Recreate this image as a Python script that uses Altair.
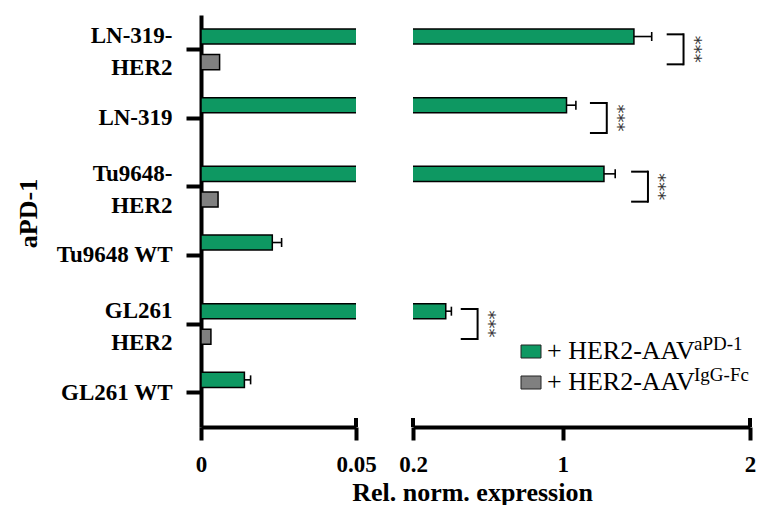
import altair as alt
import pandas as pd

# ---------------- data ----------------
cells = ["LN-319-\nHER2", "LN-319", "Tu9648-\nHER2", "Tu9648 WT", "GL261\nHER2", "GL261 WT"]
groups = ["aPD-1", "IgG-Fc"]
apd1_mean = [1.38, 1.02, 1.22, 0.023, 0.375, 0.014]
apd1_sem = [0.095, 0.05, 0.06, 0.003, 0.03, 0.002]
igg_mean = [0.006, None, 0.0055, None, 0.0032, None]
igg_sem = [0.0, None, 0.0, None, 0.0, None]

sig_cells = ["LN-319-\nHER2", "LN-319", "Tu9648-\nHER2", "GL261\nHER2"]
sig_text = ["***", "***", "***", "***"]
bracket_start = [1.555, 1.145, 1.365, 0.455]
bracket_end = [1.645, 1.235, 1.455, 0.545]

legend_main = ["+ HER2-AAV", "+ HER2-AAV"]
legend_sup = ["aPD-1", "IgG-Fc"]

left_ticks = [0, 0.05]
right_ticks = [0.2, 1, 2]
left_domain = [0, 0.05]
right_domain = [0.2, 2]
left_caps = [0.05]
right_caps = [0.2, 2]

GREEN = "#0e9862"
GRAY = "#808080"
FONT = "Liberation Serif"

rows = []
for c, m, s in zip(cells, apd1_mean, apd1_sem):
    rows.append({"cell": c, "group": "aPD-1", "mean": m, "upper": m + s, "sem": s, "base": 0.0})
for c, m, s in zip(cells, igg_mean, igg_sem):
    if m is not None:
        rows.append({"cell": c, "group": "IgG-Fc", "mean": m, "upper": m + s, "sem": s, "base": 0.0})
df = pd.DataFrame(rows)
df_err = df[df["sem"] > 0]

sig = pd.DataFrame({"cell": sig_cells, "start": bracket_start, "end": bracket_end, "txt": sig_text})

H = 412
WL = 155
WR = 337


def yenc(show):
    if show:
        ax = alt.Axis(
            title="aPD-1", titleFont=FONT, titleFontSize=26, titleFontWeight="bold",
            titleColor="black", titlePadding=14, titleY=198,
            labelFont=FONT, labelFontSize=23, labelFontWeight="bold", labelColor="black",
            labelLineHeight=32, labelExpr="split(datum.label, '\\n')", labelPadding=14,
            labelOffset={"condition": {"test": "length(split(datum.value, '\\n')) > 1", "value": -13},
                         "value": 0},
            tickSize=15, tickWidth=4, tickColor="black",
            domainWidth=4, domainColor="black", labelLimit=300,
        )
    else:
        ax = None
    return alt.Y("cell:N", sort=cells,
                 scale=alt.Scale(domain=cells, paddingInner=0, paddingOuter=0),
                 axis=ax)


yoff = alt.YOffset("group:N", sort=groups,
                   scale=alt.Scale(domain=groups, paddingInner=0.412, paddingOuter=0.546))


def xaxis(ticks, title=None, titleX=None):
    kw = dict(values=ticks, format="~g", grid=False,
              labelFont=FONT, labelFontSize=23, labelFontWeight="bold", labelColor="black",
              labelPadding=13, labelFlush=False,
              tickSize=13, tickWidth=4, tickColor="black",
              domainWidth=4, domainColor="black")
    if title:
        kw.update(title=title, titleFont=FONT, titleFontSize=26, titleFontWeight="bold",
                  titleColor="black", titleX=titleX, titlePadding=3)
    else:
        kw.update(title=None)
    return alt.Axis(**kw)


def panel(domain, ticks, caps, show_y, title=None, titleX=None):
    xs = alt.Scale(domain=domain, nice=False, zero=False)
    y = yenc(show_y)
    bars = alt.Chart(df).mark_bar(stroke="black", strokeWidth=1.5, clip=True).encode(
        x=alt.X("mean:Q", scale=xs, axis=xaxis(ticks, title, titleX)),
        x2="base:Q",
        y=y,
        yOffset=yoff,
        color=alt.Color("group:N", scale=alt.Scale(domain=groups, range=[GREEN, GRAY]), legend=None),
    )
    err = alt.Chart(df_err).mark_rule(color="black", strokeWidth=1.6, clip=True).encode(
        x="mean:Q", x2="upper:Q", y=y, yOffset=yoff)
    cap = alt.Chart(df_err).mark_tick(color="black", thickness=1.6, size=9, clip=True, opacity=1).encode(
        x="upper:Q", y=y, yOffset=yoff)
    endcaps = alt.Chart(pd.DataFrame({"v": caps})).mark_rule(color="black", strokeWidth=4).encode(
        x="v:Q", y=alt.value(H - 9), y2=alt.value(H))
    return [bars, err, cap, endcaps]


left_layers = panel(left_domain, left_ticks, left_caps, True)
left = alt.layer(*left_layers).properties(width=WL, height=H)

right_layers = panel(right_domain, right_ticks, right_caps, False, "Rel. norm. expression", 59)

ys = yenc(False)
arm_top = alt.Chart(sig).mark_rule(color="black", strokeWidth=2, yOffset=-15).encode(
    x="start:Q", x2="end:Q", y=ys)
arm_bot = alt.Chart(sig).mark_rule(color="black", strokeWidth=2, yOffset=15).encode(
    x="start:Q", x2="end:Q", y=ys)
vert = alt.Chart(sig).mark_tick(color="black", thickness=2, size=32, opacity=1).encode(
    x="end:Q", y=ys)
stars = alt.Chart(sig).mark_text(angle=90, font="DejaVu Sans", fontSize=18, color="#333333",
                                 align="center", baseline="middle", xOffset=10).encode(
    x="end:Q", y=ys, text="txt:N")

# manual legend (pixel layout inside right panel)
leg_layers = []
colors = [GREEN, GRAY]
for i in range(2):
    top = 330 + 31 * i
    sq = alt.Chart(pd.DataFrame({"k": [0]})).mark_rect(fill=colors[i], stroke="#222222", strokeWidth=1).encode(
        x=alt.value(108), x2=alt.value(128), y=alt.value(top), y2=alt.value(top + 13))
    main = alt.Chart(pd.DataFrame({"t": [legend_main[i]]})).mark_text(
        font=FONT, fontSize=26, color="black", align="left", baseline="alphabetic").encode(
        x=alt.value(134), y=alt.value(top + 14), text="t:N")
    sup = alt.Chart(pd.DataFrame({"t": [legend_sup[i]]})).mark_text(
        font=FONT, fontSize=19, color="black", align="left", baseline="alphabetic").encode(
        x=alt.value(281), y=alt.value(top + 5), text="t:N")
    leg_layers += [sq, main, sup]

right = alt.layer(*right_layers, arm_top, arm_bot, vert, stars, *leg_layers).properties(width=WR, height=H)

chart = alt.hconcat(left, right, spacing=57, bounds="flush").properties(
    padding={"left": 7, "top": 7, "right": 0, "bottom": 0}
).configure_view(stroke=None)

chart.save("out.html", embed_options={"renderer": "svg", "actions": False})
